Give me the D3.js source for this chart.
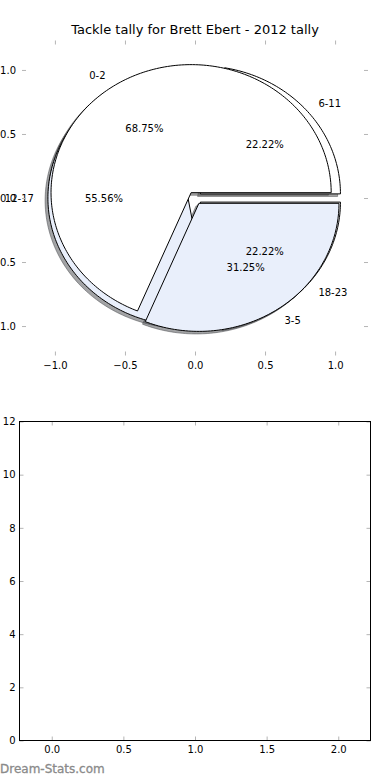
<html>
<head>
<meta charset="utf-8">
<title>Tackle tally</title>
<script src="https://cdnjs.cloudflare.com/ajax/libs/d3/7.8.5/d3.min.js"></script>
<style>
    body { margin: 0; background: #fff; }
    text { font-family: "DejaVu Sans", sans-serif; }
</style>
</head>
<body>
<div id="chart"></div>
<script>
// data
const title = "Tackle tally for Brett Ebert - 2012 tally";
const labelsA = ["0-2", "3-5"];
const valuesA = [11, 5];
const labelsB = ["6-11", "12-17", "18-23"];
const valuesB = [2, 5, 2];
const wedgeColors = ["#ffffff", "#e9effb"];
const pieTicks = [-1, -0.5, 0, 0.5, 1];
const barXTicks = [0, 0.5, 1, 1.5, 2];
const barYTicks = [0, 2, 4, 6, 8, 10, 12];

const width = 390, height = 780;
const explode = 0.05;
const tickGray = "#b5b5b5";

const svg = d3.select("#chart")
    .append("svg")
    .attr("width", width)
    .attr("height", height);

// ---- top axes (pie) ----
const x = d3.scaleLinear().domain([-1.235, 1.235]).range([22, 368]);
const y = d3.scaleLinear().domain([-1.23, 1.23]).range([355.5, 40.5]);

svg.append("text")
    .attr("x", 195)
    .attr("y", 34)
    .attr("text-anchor", "middle")
    .style("font-size", "13px")
    .text(title);

function pieLayout(values, labels) {
    const total = d3.sum(values);
    const arcs = d3.pie().sort(null).startAngle(0).endAngle(2 * Math.PI)(values);
    return arcs.map(function(a, i) {
        const tm = (a.startAngle + a.endAngle) / 2;
        return {
            label: labels[i],
            t1: a.startAngle,
            t2: a.endAngle,
            tm: tm,
            cx: explode * Math.cos(tm),
            cy: explode * Math.sin(tm),
            pct: a.value / total * 100,
            color: wedgeColors[i % wedgeColors.length]
        };
    });
}

function wedgePath(w, ox, oy) {
    const n = Math.max(2, Math.ceil((w.t2 - w.t1) / 0.02));
    const pts = [[w.cx + ox, w.cy + oy]];
    for (let k = 0; k <= n; k++) {
        const t = w.t1 + (w.t2 - w.t1) * k / n;
        pts.push([w.cx + ox + Math.cos(t), w.cy + oy + Math.sin(t)]);
    }
    return d3.line().x(function(d) { return x(d[0]); }).y(function(d) { return y(d[1]); })(pts) + "Z";
}

// second pie is drawn first, the first one lies on top of it
const wedges = pieLayout(valuesB, labelsB).concat(pieLayout(valuesA, labelsA));

// shadows sit under every wedge
svg.append("g")
    .selectAll("path")
    .data(wedges)
    .enter()
    .append("path")
    .attr("d", function(d) { return wedgePath(d, -0.02, -0.02); })
    .attr("fill", function(d) { const c = d3.rgb(d.color); return d3.rgb(c.r * 0.3, c.g * 0.3, c.b * 0.3); })
    .attr("fill-opacity", 0.5)
    .attr("stroke", function(d) { const c = d3.rgb(d.color); return d3.rgb(c.r * 0.3, c.g * 0.3, c.b * 0.3); })
    .attr("stroke-opacity", 0.5)
    .attr("stroke-width", 1);

svg.append("g")
    .selectAll("path")
    .data(wedges)
    .enter()
    .append("path")
    .attr("d", function(d) { return wedgePath(d, 0, 0); })
    .attr("fill", function(d) { return d.color; })
    .attr("stroke", "#000")
    .attr("stroke-width", 1)
    .attr("stroke-linejoin", "round");

// labels
const lab = svg.append("g").style("font-size", "10px");
wedges.forEach(function(w) {
    const lx = w.cx + 1.1 * Math.cos(w.tm), ly = w.cy + 1.1 * Math.sin(w.tm);
    lab.append("text")
        .attr("x", x(lx))
        .attr("y", y(ly))
        .attr("dy", "0.35em")
        .attr("text-anchor", lx > 0 ? "start" : "end")
        .text(w.label);
    const px = w.cx + 0.6 * Math.cos(w.tm), py = w.cy + 0.6 * Math.sin(w.tm);
    lab.append("text")
        .attr("x", x(px))
        .attr("y", y(py))
        .attr("dy", "0.35em")
        .attr("text-anchor", "middle")
        .text(d3.format(".2f")(w.pct) + "%");
});

function styleAxis(g, labels) {
    g.select(".domain").remove();
    g.selectAll(".tick line").attr("stroke", tickGray);
    g.selectAll(".tick text").attr("fill", "#000").style("font-size", "10px").style("font-family", "DejaVu Sans");
    if (!labels) g.selectAll(".tick text").remove();
}

const fmt1 = d3.format(".1f");
svg.append("g").attr("transform", "translate(0,355.5)")
    .call(d3.axisBottom(x).tickValues(pieTicks).tickFormat(fmt1).tickSize(-4).tickPadding(6))
    .call(styleAxis, true);
svg.append("g").attr("transform", "translate(0,40.5)")
    .call(d3.axisTop(x).tickValues(pieTicks).tickSize(-4))
    .call(styleAxis, false);
svg.append("g").attr("transform", "translate(22,0)")
    .call(d3.axisLeft(y).tickValues(pieTicks).tickFormat(fmt1).tickSize(-4).tickPadding(6))
    .call(styleAxis, true);
svg.append("g").attr("transform", "translate(368,0)")
    .call(d3.axisRight(y).tickValues(pieTicks).tickSize(-4))
    .call(styleAxis, false);

// ---- bottom axes (empty) ----
const bx = d3.scaleLinear().domain([-0.225, 2.225]).range([19.5, 370.5]);
const by = d3.scaleLinear().domain([0, 12]).range([740.5, 421.5]);

svg.append("g").attr("transform", "translate(0,740.5)")
    .call(d3.axisBottom(bx).tickValues(barXTicks).tickFormat(fmt1).tickSize(-4).tickPadding(5))
    .call(styleAxis, true);
svg.append("g").attr("transform", "translate(0,421.5)")
    .call(d3.axisTop(bx).tickValues(barXTicks).tickSize(-4))
    .call(styleAxis, false);
svg.append("g").attr("transform", "translate(19.5,0)")
    .call(d3.axisLeft(by).tickValues(barYTicks).tickFormat(d3.format("d")).tickSize(-4).tickPadding(4))
    .call(styleAxis, true);
svg.append("g").attr("transform", "translate(370.5,0)")
    .call(d3.axisRight(by).tickValues(barYTicks).tickSize(-4))
    .call(styleAxis, false);

svg.append("rect")
    .attr("x", bx.range()[0])
    .attr("y", by.range()[1])
    .attr("width", bx.range()[1] - bx.range()[0])
    .attr("height", by.range()[0] - by.range()[1])
    .attr("fill", "none")
    .attr("stroke", "#000")
    .attr("stroke-width", 1);

svg.append("text")
    .attr("x", 0)
    .attr("y", 773)
    .style("font-size", "12px")
    .attr("fill", "#8a8a8a")
    .attr("stroke", "#8a8a8a")
    .attr("stroke-width", 0.3)
    .text("Dream-Stats.com");
</script>
</body>
</html>
